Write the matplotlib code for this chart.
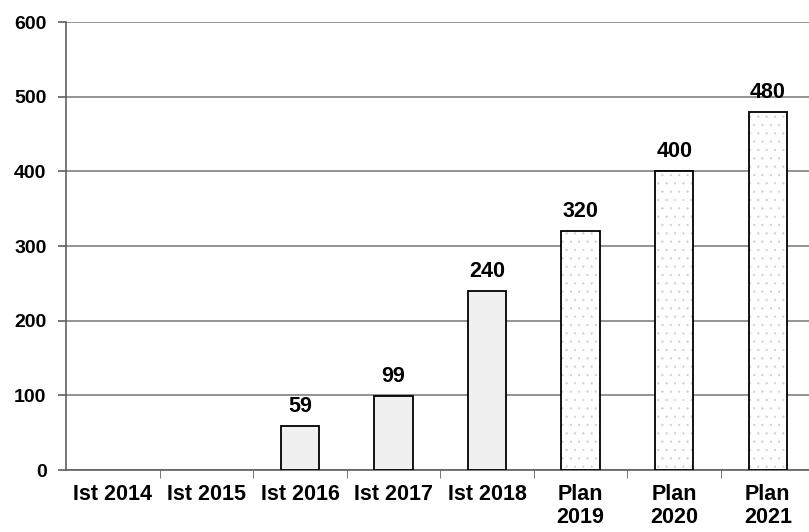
import numpy as np
import matplotlib.pyplot as plt

categories = ["Ist 2014", "Ist 2015", "Ist 2016", "Ist 2017", "Ist 2018", "Plan\n2019", "Plan\n2020", "Plan\n2021"]
values = [0, 0, 59, 99, 240, 320, 400, 480]
is_plan = [False, False, False, False, False, True, True, True]

plt.rcParams['font.family'] = ['Liberation Sans', 'DejaVu Sans']
plt.rcParams['hatch.linewidth'] = 0.4

fig = plt.figure(figsize=(8.09, 5.32), dpi=100)
ax = fig.add_axes([0.0816, 0.1165, 0.9184, 0.842])

x = np.arange(len(categories))
w = 0.41
fs = 15.5
for xi, v, plan in zip(x, values, is_plan):
    if v == 0:
        continue
    if plan:
        ax.bar(xi, v, w, color="white", edgecolor="#c8ccf6", hatch="..", linewidth=0, zorder=3)
        ax.bar(xi, v, w, color="none", edgecolor="black", linewidth=1.3, zorder=4)
    else:
        ax.bar(xi, v, w, color="#f0f0f0", edgecolor="black", linewidth=1.3, zorder=3)
    ax.text(xi, v + 12, str(v), ha="center", va="bottom", fontsize=fs, fontweight="bold")

ax.set_ylim(0, 600)
ax.set_xlim(-0.5, 7.44)
ax.set_yticks(range(0, 601, 100))
ax.yaxis.grid(True, color="#808080", linewidth=1.2, zorder=0)
ax.set_axisbelow(True)

ax.set_xticks(x)
ax.set_xticklabels(categories, fontsize=fs, fontweight="bold", linespacing=1.1)
ax.set_xticks(np.arange(0.5, 7.5, 1), minor=True)
ax.tick_params(axis="x", which="major", length=0, pad=10)
ax.tick_params(axis="x", which="minor", length=6, color="#606060")
ax.tick_params(axis="y", length=6, color="#606060", width=1.2, pad=8)
for lab in ax.get_yticklabels():
    lab.set_fontsize(14)
    lab.set_fontweight("bold")

for s in ["top", "right"]:
    ax.spines[s].set_visible(False)
ax.spines["left"].set_color("#606060")
ax.spines["left"].set_linewidth(1.2)
ax.spines["bottom"].set_color("#606060")
ax.spines["bottom"].set_linewidth(1.2)

fig.savefig("out.png", dpi=100)
